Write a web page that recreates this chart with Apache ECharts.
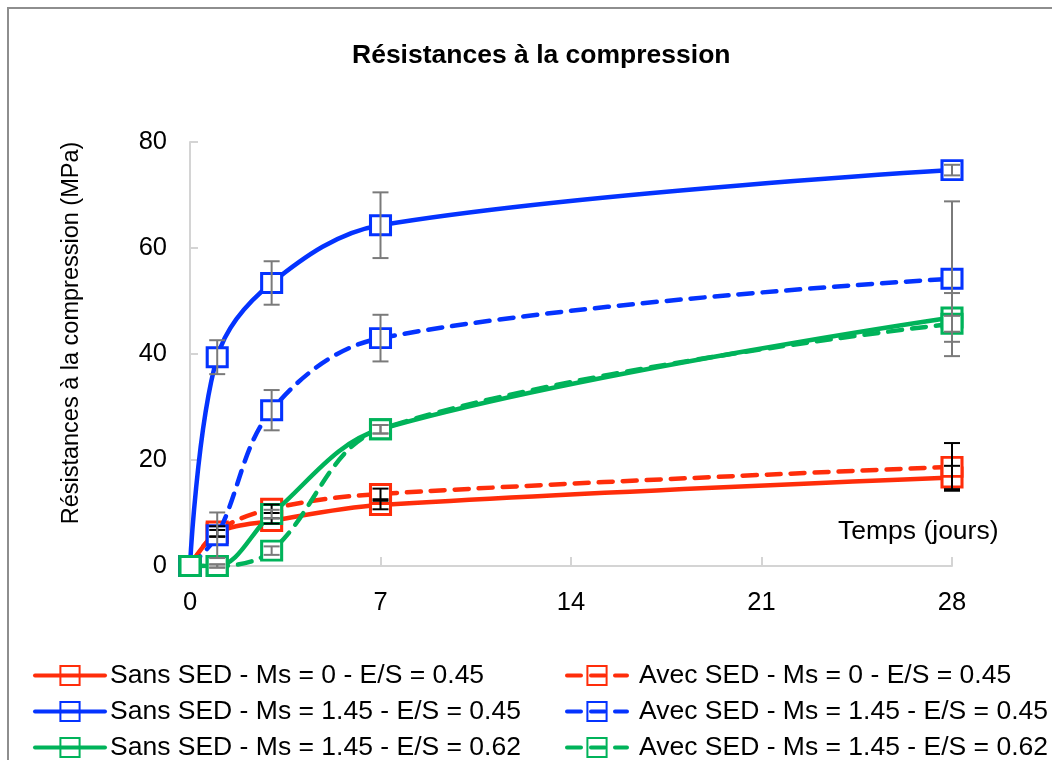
<!DOCTYPE html>
<html>
<head>
<meta charset="utf-8">
<script src="https://cdn.jsdelivr.net/npm/echarts@6/dist/echarts.min.js"></script>
<style>
  html, body { margin: 0; padding: 0; background: #fff; }
  #main { width: 1052px; height: 760px; }
</style>
</head>
<body>
<div id="main"></div>
<script>
// days of measurement
const days = [0, 1, 3, 7, 28];

// compressive strength (MPa)
const sansMs0 = [0, 6.2, 8.5, 11.5, 16.7];
const avecMs0 = [0, 6.5, 10.8, 13.6, 18.7];
const sansMs145E045 = [0, 39.4, 53.4, 64.3, 74.7];
const avecMs145E045 = [0, 5.8, 29.4, 43.0, 54.2];
const sansMs145E062 = [0, 0, 9.8, 25.8, 46.9];
const avecMs145E062 = [0, 0, 2.9, 25.8, 45.7];

// error bars (± MPa)
const errSansMs0 = [0, 0.6, 0.5, 0.8, 2.2];
const errAvecMs0 = [0, 1.0, 0.8, 1.0, 4.5];
const errSansMs145E045 = [0, 3.2, 4.1, 6.2, 1.0];
const errAvecMs145E045 = [0, 4.3, 3.8, 4.4, 14.6];
const errSansMs145E062 = [0, 0.3, 0.8, 0.8, 4.6];
const errAvecMs145E062 = [0, 0.3, 0.8, 0.8, 1.5];

const yTicks = [0, 20, 40, 60, 80];
const xTicks = [0, 7, 14, 21, 28];

const RED = "#ff2d0a";
const BLUE = "#0433ff";
const GREEN = "#00b35a";

const series = [
  { name: "Sans SED - Ms = 0 - E/S = 0.45", values: sansMs0, err: errSansMs0, color: RED, dashed: false, errColor: "#000" },
  { name: "Avec SED - Ms = 0 - E/S = 0.45", values: avecMs0, err: errAvecMs0, color: RED, dashed: true, errColor: "#000" },
  { name: "Sans SED - Ms = 1.45 - E/S = 0.45", values: sansMs145E045, err: errSansMs145E045, color: BLUE, dashed: false, errColor: "#7a7a7a" },
  { name: "Avec SED - Ms = 1.45 - E/S = 0.45", values: avecMs145E045, err: errAvecMs145E045, color: BLUE, dashed: true, errColor: "#7a7a7a" },
  { name: "Sans SED - Ms = 1.45 - E/S = 0.62", values: sansMs145E062, err: errSansMs145E062, color: GREEN, dashed: false, errColor: "#7a7a7a" },
  { name: "Avec SED - Ms = 1.45 - E/S = 0.62", values: avecMs145E062, err: errAvecMs145E062, color: GREEN, dashed: true, errColor: "#7a7a7a" },
];

const FONT = "Liberation Sans, Arial, sans-serif";

const lineSeries = series.map(function (s, i) {
  return {
    name: s.name,
    type: "line",
    smooth: 0.35,
    z: 2 + i * 0.01,
    data: days.map(function (d, k) { return [d, s.values[k]]; }),
    symbol: "rect",
    symbolSize: [20, 19],
    lineStyle: {
      color: s.color,
      width: 4.5,
      type: s.dashed ? [14, 10] : "solid",
      cap: "round",
    },
    itemStyle: {
      color: "#fff",
      borderColor: s.color,
      borderWidth: 3,
    },
  };
});

const errorSeries = series.map(function (s) {
  return {
    type: "custom",
    z: 5,
    silent: true,
    data: days.map(function (d, k) {
      return [d, s.values[k] - s.err[k], s.values[k] + s.err[k]];
    }),
    renderItem: function (params, api) {
      if (api.value(2) - api.value(1) <= 0) return;
      const lo = api.coord([api.value(0), api.value(1)]);
      const hi = api.coord([api.value(0), api.value(2)]);
      const half = 8;
      const style = { stroke: s.errColor, lineWidth: 2 };
      return {
        type: "group",
        children: [
          { type: "line", shape: { x1: lo[0], y1: lo[1], x2: hi[0], y2: hi[1] }, style: style },
          { type: "line", shape: { x1: hi[0] - half, y1: hi[1], x2: hi[0] + half, y2: hi[1] }, style: style },
          { type: "line", shape: { x1: lo[0] - half, y1: lo[1], x2: lo[0] + half, y2: lo[1] }, style: style },
        ],
      };
    },
  };
});

const legendBase = {
  orient: "vertical",
  top: 657,
  height: 160,
  itemHeight: 24,
  itemGap: 9,
  textStyle: { fontFamily: FONT, fontSize: 26.5, color: "#000", lineHeight: 25, padding: [0, 0, 0, 0] },
  itemStyle: { color: "transparent" },
  lineStyle: { width: 4 },
  selectedMode: false,
};

const chart = echarts.init(document.getElementById("main"));
chart.setOption({
  animation: false,
  backgroundColor: "#fff",
  title: {
    text: "Résistances à la compression",
    left: 347,
    top: 37,
    textStyle: { fontFamily: FONT, fontSize: 26.5, fontWeight: "bold", color: "#000" },
  },
  grid: { left: 190, right: 100, top: 142, bottom: 194 },
  xAxis: {
    type: "value",
    min: xTicks[0],
    max: xTicks[xTicks.length - 1],
    interval: 7,
    axisLine: { lineStyle: { color: "#d4d4d4", width: 2 } },
    axisTick: { inside: true, length: 9, lineStyle: { color: "#d4d4d4", width: 2 } },
    axisLabel: { margin: 24, fontFamily: FONT, fontSize: 25.5, color: "#000" },
    splitLine: { show: false },
  },
  yAxis: {
    type: "value",
    min: yTicks[0],
    max: yTicks[yTicks.length - 1],
    interval: 20,
    axisLine: { show: true, lineStyle: { color: "#d4d4d4", width: 2 } },
    axisTick: { show: true, inside: true, length: 8, lineStyle: { color: "#d4d4d4", width: 2 } },
    axisLabel: { margin: 23, fontFamily: FONT, fontSize: 25.5, color: "#000" },
    splitLine: { show: false },
  },
  legend: [
    Object.assign({}, legendBase, {
      left: 28,
      itemWidth: 70,
      data: [series[0].name, series[2].name, series[4].name],
    }),
    Object.assign({}, legendBase, {
      left: 560,
      itemWidth: 60,
      textStyle: Object.assign({}, legendBase.textStyle, { padding: [0, 0, 0, 7] }),
      data: [series[1].name, series[3].name, series[5].name],
    }),
  ],
  graphic: [
    {
      type: "rect",
      shape: { x: 8, y: 8, width: 1200, height: 900 },
      style: { fill: null, stroke: "#8e8e8e", lineWidth: 2 },
      silent: true,
    },
    {
      type: "text",
      left: 838,
      top: 518,
      style: { text: "Temps (jours)", font: "26.5px " + FONT, fill: "#000" },
    },
    {
      type: "text",
      x: 72,
      y: 333,
      rotation: Math.PI / 2,
      style: {
        text: "Résistances à la compression (MPa)",
        font: "23.5px " + FONT,
        fill: "#000",
        align: "center",
        verticalAlign: "middle",
      },
    },
  ],
  series: lineSeries.concat(errorSeries),
});
window.addEventListener("resize", function () { chart.resize(); });
</script>
</body>
</html>
